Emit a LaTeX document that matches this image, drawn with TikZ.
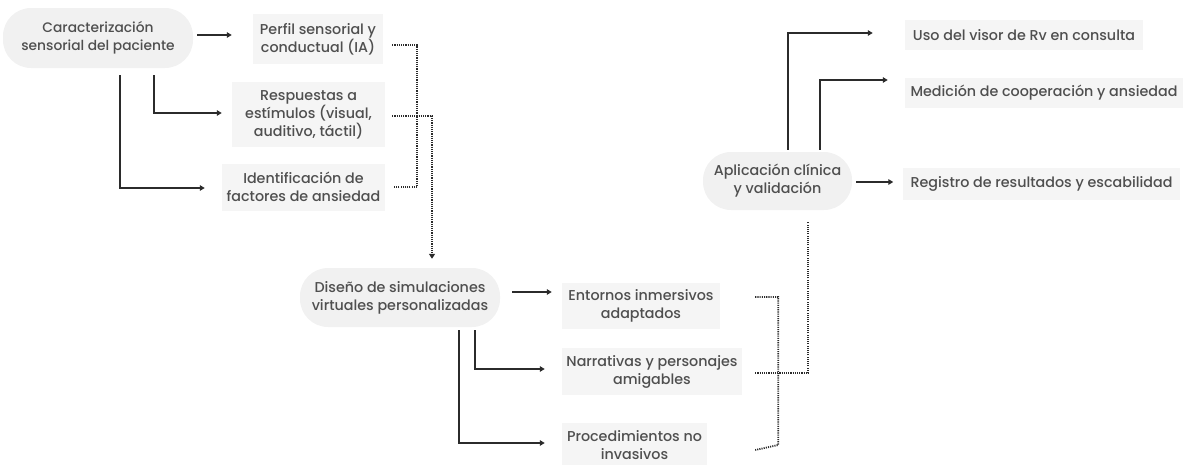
\documentclass[tikz,border=0pt]{standalone}
\usepackage{fontspec}
\setmainfont{Poppins}[UprightFont=* Medium]
\usetikzlibrary{arrows.meta}
\definecolor{txt}{HTML}{4F4F4F}
\definecolor{pillfill}{HTML}{F1F1F1}
\definecolor{boxfill}{HTML}{F5F5F5}
\definecolor{ln}{HTML}{2B2B2B}
\begin{document}
\begin{tikzpicture}[x=1pt,y=-1pt,
  every node/.style={font=\fontsize{14.3}{18}\selectfont, text=txt, align=center, inner sep=0pt},
  pill/.style={fill=pillfill, rounded corners=28pt},
  topic/.style={fill=boxfill},
  link/.style={draw=ln, line width=1.6pt, -{Triangle[length=5pt,width=5.5pt]}},
  dotlink/.style={draw=ln, line width=1.8pt, dash pattern=on 1.1pt off 1.1pt},
]
\useasboundingbox (0,0) rectangle (1190,464);
\begin{scope}
\clip (0,0) rectangle (1190,464);
% main stages
\node[pill, minimum width=190pt, minimum height=60pt, font=\fontsize{13.8}{18}\selectfont] (car) at (98,38) {Caracterización\\sensorial del paciente};
\node[pill, minimum width=200pt, minimum height=59pt] (dis) at (400,297.5) {Diseño de simulaciones\\virtuales personalizadas};
\node[pill, minimum width=149pt, minimum height=58pt] (apl) at (777.5,181) {Aplicación clínica\\y validación};
% first stage topics
\node[topic, minimum width=130pt, minimum height=50pt] (perf) at (318,39) {Perfil sensorial y\\conductual (IA)};
\node[topic, minimum width=153pt, minimum height=65pt] (resp) at (308.5,114.5) {Respuestas a\\estímulos (visual,\\auditivo, táctil)};
\node[topic, minimum width=163pt, minimum height=47pt] (iden) at (303.5,187) {Identificación de\\factores de ansiedad};
% second stage topics
\node[topic, minimum width=158pt, minimum height=46pt] (ent) at (641,305.5) {Entornos inmersivos\\adaptados};
\node[topic, minimum width=180pt, minimum height=47pt] (nar) at (652,371.5) {Narrativas y personajes\\amigables};
\node[topic, minimum width=145pt, minimum height=44pt] (proc) at (634.5,445) {Procedimientos no\\invasivos};
% third stage topics
\node[topic, minimum width=238pt, minimum height=30pt] (uso) at (1024,35) {Uso del visor de Rv en consulta};
\node[topic, minimum width=278pt, minimum height=30pt] (med) at (1044,93) {Medición de cooperación y ansiedad};
\node[topic, minimum width=277pt, minimum height=32pt] (reg) at (1041.5,184) {Registro de resultados y escabilidad};
\end{scope}

% branches of the first stage
\draw[link] ([shift={(4,-3)}]car.east) -- ([shift={(-21,-4)}]perf.west);
\draw[link] ([shift={(56,7)}]car.south) |- ([shift={(-10,-1.5)}]resp.west);
\draw[link] ([shift={(22,7)}]car.south) |- ([shift={(-17,1)}]iden.west);
% first stage feeds the second
\draw[dotlink] ([shift={(9,6)}]perf.east) -| ([shift={(34,0)}]perf.east |- iden.east)
  -- ([shift={(9,0)}]iden.east);
\draw[dotlink, -{Triangle[length=5pt,width=6pt]}] ([shift={(7,1.5)}]resp.east) -| ([shift={(32,-9)}]dis.north);

% branches of the second stage
\draw[link] ([shift={(12,-5.5)}]dis.east) -- ([shift={(-10,-13.5)}]ent.west);
\draw[link] ([shift={(75,3)}]dis.south) |- ([shift={(-17,-2.5)}]nar.west);
\draw[link] ([shift={(59,3)}]dis.south) |- ([shift={(-17,-2)}]proc.west);
% second stage feeds the third
\draw[dotlink] ([shift={(35,-8.5)}]ent.east) -| ([shift={(58,0)}]ent.east |- proc.east)
  -- ([shift={(48,5)}]proc.east);
\draw[dotlink] ([shift={(13,1.5)}]nar.east) -| ([shift={(30.5,12)}]apl.south);

% branches of the third stage
\draw[link] ([shift={(4,1)}]apl.east) -- ([shift={(-9.5,-2)}]reg.west);
\draw[link] ([shift={(10.5,-2)}]apl.north) |- ([shift={(-32,-2)}]uso.west);
\draw[link] ([shift={(42.5,-2)}]apl.north) |- ([shift={(-17,-13)}]med.west);
\end{tikzpicture}
\end{document}
